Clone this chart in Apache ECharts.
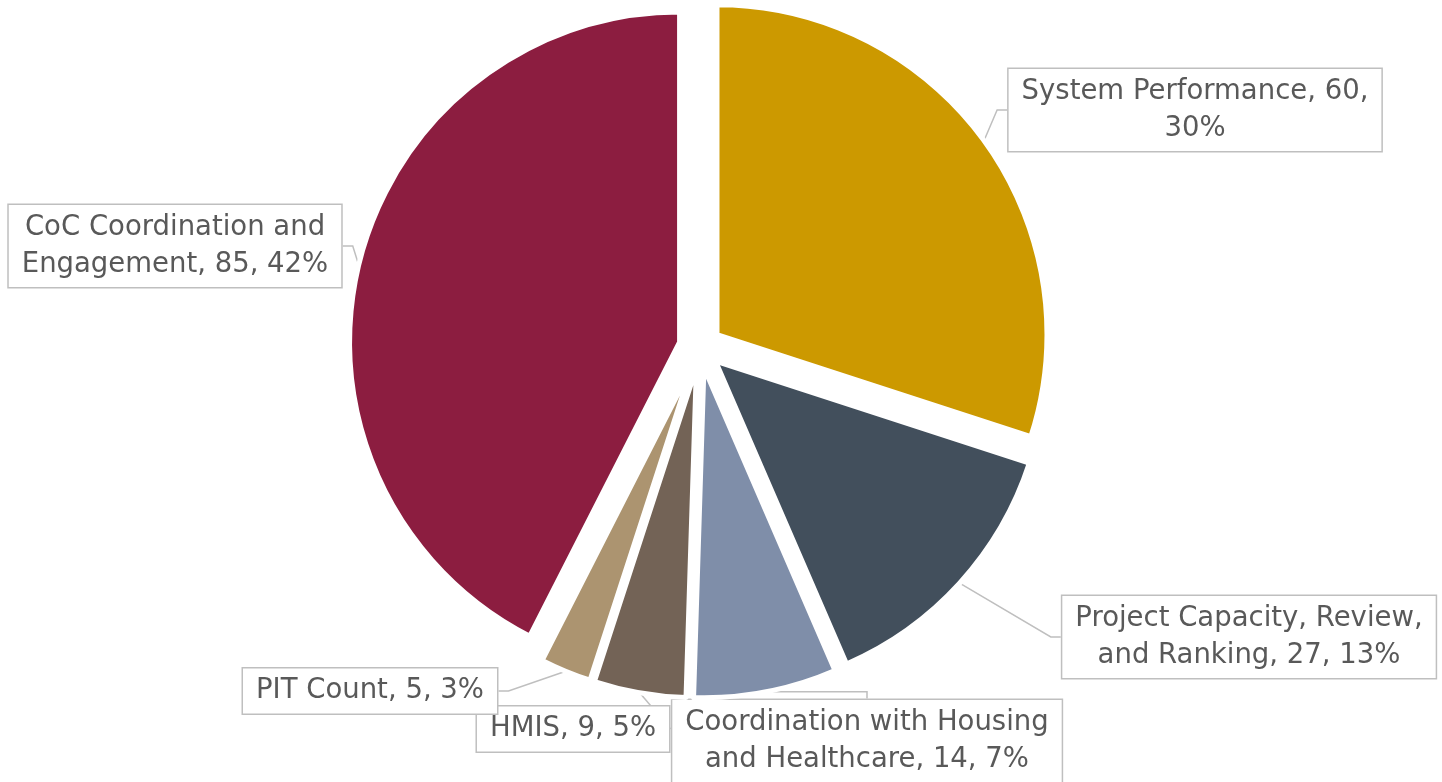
<!DOCTYPE html>
<html>
<head>
<meta charset="utf-8">
<script src="https://cdn.jsdelivr.net/npm/echarts@6/dist/echarts.min.js"></script>
<style>
  html, body { margin: 0; padding: 0; background: #fff; }
  #pie { width: 1442px; height: 782px; }
</style>
</head>
<body>
<div id="pie"></div>
<script>
// categories, clockwise from 12 o'clock
var categories = [
  'System Performance',
  'Project Capacity, Review, and Ranking',
  'Coordination with Housing and Healthcare',
  'HMIS',
  'PIT Count',
  'CoC Coordination and Engagement'
];
var values = [60, 27, 14, 9, 5, 85];
// percentages as printed on the labels
var shares = [30, 13, 7, 5, 3, 42];
var colors = ['#cc9900', '#424f5c', '#7f8ea9', '#736356', '#ac9470', '#8c1d40'];

// label box centres (layout only) and how many words go on the first line
var labelPos = [[1195, 110], [1249, 637], [867, 741], [573, 729], [370, 691], [175, 246]];
var wrapWords = [3, 3, 3, 0, 0, 3];

var CENTER = [700, 347];
var R = 330;
var EXPLODE = 21;

var myChart = echarts.init(document.getElementById('pie'));

var sliceData = categories.map(function (name, i) {
  return { name: name, value: values[i], selected: true, itemStyle: { color: colors[i] } };
});
var labelData = categories.map(function (name, i) {
  return { name: name, value: values[i] };
});

myChart.setOption({
  animation: false,
  series: [{
    // the exploded slices
    type: 'pie',
    center: CENTER,
    radius: R,
    startAngle: 90,
    selectedMode: 'multiple',
    selectedOffset: EXPLODE,
    emphasis: { scale: false },
    itemStyle: { borderColor: '#fff', borderWidth: 5 },
    label: { show: false },
    labelLine: { show: false },
    data: sliceData
  }, {
    // callout labels, anchored on the exploded outer edge
    type: 'pie',
    silent: true,
    center: CENTER,
    radius: R + EXPLODE,
    startAngle: 90,
    avoidLabelOverlap: false,
    itemStyle: { color: 'rgba(0,0,0,0)' },
    label: {
      show: true,
      position: 'outside',
      fontFamily: 'DejaVu Sans',
      fontSize: 27.5,
      lineHeight: 37,
      color: '#595959',
      align: 'center',
      backgroundColor: '#fff',
      borderColor: '#bfbfbf',
      borderWidth: 1.5,
      padding: [4, 13, 4, 13],
      formatter: function (p) {
        var txt = p.name + ', ' + p.value + ', ' + shares[p.dataIndex] + '%';
        var n = wrapWords[p.dataIndex];
        if (!n) return txt;
        var words = txt.split(' ');
        return words.slice(0, n).join(' ') + '\n' + words.slice(n).join(' ');
      }
    },
    labelLine: {
      show: true,
      length: 10,
      length2: 10,
      lineStyle: { color: '#bfbfbf', width: 1.5 }
    },
    labelLayout: function (params) {
      var pos = labelPos[params.dataIndex];
      return {
        x: pos[0],
        y: pos[1],
        align: 'center',
        verticalAlign: 'middle'
      };
    },
    data: labelData
  }]
});

window.addEventListener('resize', function () {
  myChart.resize();
});
</script>
</body>
</html>
